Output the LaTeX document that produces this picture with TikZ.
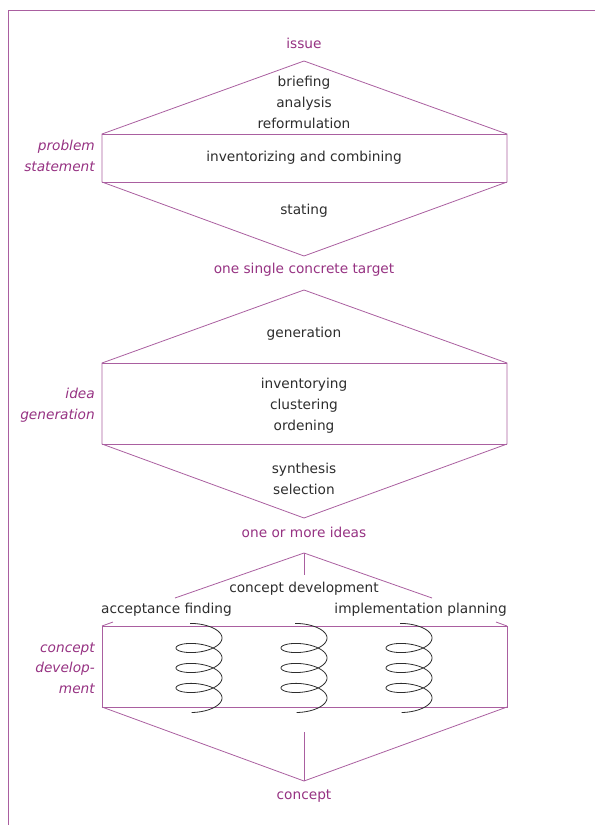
\documentclass[tikz,border=0pt]{standalone}
\usepackage{fontspec}
\setmainfont{DejaVu Sans}
\definecolor{tp}{RGB}{150,50,130}
\definecolor{lp}{RGB}{170,95,160}
\definecolor{tg}{RGB}{45,45,45}
\begin{document}
\begin{tikzpicture}[x=1pt,y=-1pt,
  every node/.style={font=\fontsize{13.7}{21}\selectfont, inner sep=0pt},
  body/.style={text=tg, align=center},
  stage/.style={text=tp, align=center},
  side/.style={text=tp, font=\fontsize{13.7}{20.5}\selectfont\itshape, align=right, anchor=east},
  frame/.style={draw=lp, line width=0.8pt, line join=miter},
  spiral/.style={draw=tg, line width=0.8pt}]
\useasboundingbox (0,0) rectangle (595,825);
% frame
\coordinate (ftr) at (595,10);
\coordinate (ftl) at (8,10);
\coordinate (fbl) at (8,825);
\draw[frame] (ftr) -- (ftl) -- (fbl);

% ---- section 1
\coordinate (a1) at (304,61);
\coordinate (r1tl) at (102,134);
\coordinate (r1tr) at (507,134);
\coordinate (r1bl) at (102,182);
\coordinate (r1br) at (507,182);
\coordinate (b1) at (304,256);
\draw[frame] (r1tl) -- (a1) -- (r1tr) -- (r1br) -- (b1) -- (r1bl) -- cycle;
\draw[frame] (r1tl) -- (r1tr);
\draw[frame] (r1bl) -- (r1br);
\node[stage] (issue) at (304,43) {issue};
\node[body] (brief) at (304,102) {briefing\\analysis\\reformulation};
\node[body] (inv1) at (304,158) {inventorizing and combining};
\node[body] (stat) at (304,211) {stating};
\node[side] (ps) at (95,156) {problem\\statement};
\node[stage] (target) at (304,270) {one single concrete target};

% ---- section 2
\coordinate (a2) at (304,290);
\coordinate (r2tl) at (102,363);
\coordinate (r2tr) at (507,363);
\coordinate (r2bl) at (102,444);
\coordinate (r2br) at (507,444);
\coordinate (b2) at (304,518);
\draw[frame] (r2tl) -- (a2) -- (r2tr) -- (r2br) -- (b2) -- (r2bl) -- cycle;
\draw[frame] (r2tl) -- (r2tr);
\draw[frame] (r2bl) -- (r2br);
\node[body] (gen) at (304,334) {generation};
\node[body] (inv2) at (304,406) {inventorying\\clustering\\ordening};
\node[body] (syn) at (304,479) {synthesis\\selection};
\node[side] (ig) at (95,405) {idea\\generation};
\node[stage] (ideas) at (304,532) {one or more ideas};

% ---- section 3
\coordinate (a3) at (304,553);
\coordinate (a3l) at (175,598);
\coordinate (a3r) at (432,598);
\coordinate (a3v) at (304,575);
\draw[frame] (a3l) -- (a3) -- (a3r);
\draw[frame] (a3) -- (a3v);
\coordinate (r3tl) at (102,626);
\coordinate (r3tr) at (507,626);
\coordinate (r3bl) at (102,707);
\coordinate (r3br) at (507,707);
\coordinate (t3l) at (113,622);
\coordinate (t3r) at (496,622);
\draw[frame] (r3tl) rectangle (r3br);
\draw[frame] (r3tl) -- (t3l);
\draw[frame] (r3tr) -- (t3r);
\coordinate (b3) at (304,781);
\coordinate (b3v) at (304,732);
\draw[frame] (r3bl) -- (b3) -- (r3br);
\draw[frame] (b3v) -- (b3);
\node[body] (cd) at (304,589) {concept development};
\node[body, anchor=west] (af) at (101,610) {acceptance finding};
\node[body, anchor=east] (ip) at (507,610) {implementation planning};
\node[side] (cdl) at (95,668) {concept\\develop-\\ment};
\node[stage] (concept) at (304,796) {concept};
\foreach \cx in {199,304,409}
  \draw[spiral] plot[domain=-1.97:20.75, samples=240, smooth, variable=\t]
    ({\cx+23*cos(\t r)},{638+3.18*\t+9*sin(\t r)});
\end{tikzpicture}
\end{document}
